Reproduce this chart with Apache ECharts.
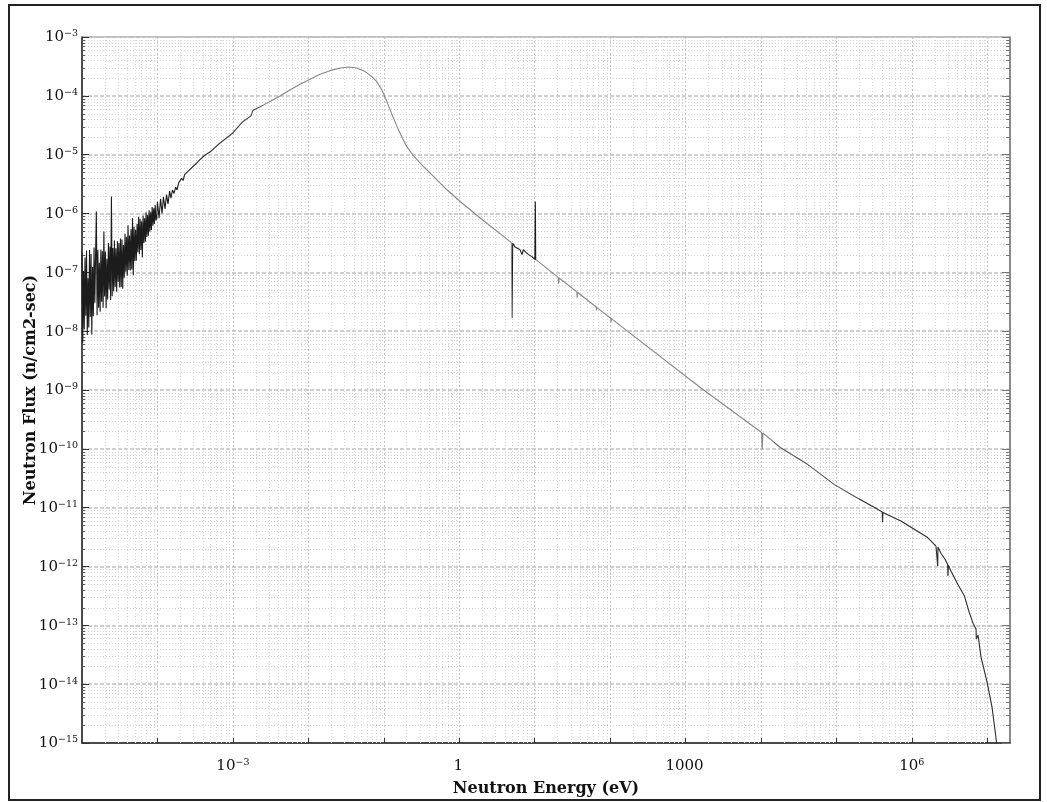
<!DOCTYPE html>
<html>
<head>
<meta charset="utf-8">
<script src="https://cdn.jsdelivr.net/npm/echarts@6/dist/echarts.min.js"></script>
<style>
  html, body { margin: 0; padding: 0; background: #fff; }
  #chart { width: 1047px; height: 802px; }
</style>
</head>
<body>
<div id="chart"></div>
<script>
// Neutron energy (eV) of each sample along the spectrum
const energy = [
  1.000e-5, 1.023e-5, 1.047e-5, 1.072e-5, 1.096e-5, 1.122e-5, 1.148e-5, 1.175e-5, 1.202e-5, 1.230e-5,
  1.259e-5, 1.288e-5, 1.318e-5, 1.349e-5, 1.380e-5, 1.413e-5, 1.445e-5, 1.479e-5, 1.514e-5, 1.549e-5,
  1.585e-5, 1.622e-5, 1.660e-5, 1.698e-5, 1.738e-5, 1.778e-5, 1.820e-5, 1.862e-5, 1.905e-5, 1.950e-5,
  1.995e-5, 2.042e-5, 2.089e-5, 2.138e-5, 2.188e-5, 2.239e-5, 2.291e-5, 2.344e-5, 2.399e-5, 2.455e-5,
  2.512e-5, 2.570e-5, 2.630e-5, 2.692e-5, 2.754e-5, 2.818e-5, 2.884e-5, 2.951e-5, 3.020e-5, 3.090e-5,
  3.162e-5, 3.236e-5, 3.311e-5, 3.388e-5, 3.467e-5, 3.548e-5, 3.631e-5, 3.715e-5, 3.802e-5, 3.890e-5,
  3.981e-5, 4.074e-5, 4.169e-5, 4.266e-5, 4.365e-5, 4.467e-5, 4.571e-5, 4.677e-5, 4.786e-5, 4.898e-5,
  5.012e-5, 5.129e-5, 5.248e-5, 5.370e-5, 5.495e-5, 5.623e-5, 5.754e-5, 5.888e-5, 6.026e-5, 6.166e-5,
  6.310e-5, 6.457e-5, 6.607e-5, 6.761e-5, 6.918e-5, 7.079e-5, 7.244e-5, 7.413e-5, 7.586e-5, 7.762e-5,
  7.943e-5, 8.128e-5, 8.318e-5, 8.511e-5, 8.710e-5, 8.913e-5, 9.120e-5, 9.333e-5, 9.550e-5, 9.772e-5,
  1.00e-4, 1.05e-4, 1.10e-4, 1.15e-4, 1.20e-4, 1.26e-4, 1.32e-4, 1.38e-4, 1.45e-4, 1.51e-4,
  1.58e-4, 1.66e-4, 1.74e-4, 1.82e-4, 1.91e-4, 2.00e-4, 2.09e-4, 2.19e-4, 2.29e-4, 2.40e-4,
  2.51e-4, 2.63e-4, 2.75e-4, 2.88e-4, 3.02e-4, 3.16e-4, 3.39e-4, 3.63e-4, 3.98e-4, 4.47e-4,
  5.01e-4, 6.76e-4, 1.00e-3, 1.35e-3, 1.74e-3, 1.84e-3, 2.29e-3, 3.10e-3, 4.21e-3, 5.71e-3,
  7.76e-3, 1.054e-2, 1.43e-2, 1.94e-2, 2.64e-2, 3.40e-2, 4.39e-2, 5.66e-2, 6.95e-2, 8.09e-2,
  9.44e-2, 0.1076, 0.1216, 0.1374, 0.1567, 0.179, 0.202, 0.248, 0.320, 0.456,
  0.687, 1.03, 1.40, 1.90, 4.91, 5.01, 5.12, 5.30, 5.50, 5.65,
  5.80, 6.00, 6.20, 6.39, 6.60, 6.81, 7.08, 7.30, 7.60, 8.01,
  8.30, 8.77, 9.20, 9.60, 10.07, 10.2, 10.4, 20.5, 20.8, 21.1,
  36.3, 36.6, 36.9, 65.5, 65.9, 66.3, 102, 103, 104, 160,
  1585, 1.02e4, 1.04e4, 1.06e4, 1.83e4, 4.14e4, 9.32e4, 1.55e5, 3.51e5, 4.05e5,
  4.09e5, 4.13e5, 7.16e5, 1.075e6, 1.62e6, 2.09e6, 2.20e6, 2.22e6, 2.43e6, 2.75e6,
  2.98e6, 3.01e6, 3.05e6, 3.31e6, 4.06e6, 4.96e6, 5.77e6, 6.47e6, 7.10e6, 7.15e6,
  7.54e6, 8.26e6, 9.92e6, 1.16e7, 1.33e7, 1.43e7
];

// Neutron flux (n/cm2-sec) at each energy above
const flux = [
  2.19e-7, 6.38e-9, 1.05e-7, 1.08e-8, 1.78e-7, 1.82e-8, 2.34e-7, 8.61e-9, 7.94e-8, 1.16e-8,
  2.40e-7, 1.76e-8, 2.04e-7, 8.81e-9, 1.23e-7, 1.80e-8, 2.63e-7, 3.05e-8, 2.00e-7, 1.08e-6,
  1.86e-8, 2.43e-7, 2.51e-8, 1.46e-7, 2.14e-8, 2.45e-7, 3.16e-8, 2.29e-7, 2.51e-8, 4.95e-7,
  3.89e-8, 2.26e-7, 2.45e-8, 1.70e-7, 3.47e-8, 3.16e-7, 5.13e-8, 2.75e-7, 3.39e-8, 1.95e-6,
  3.98e-8, 2.60e-7, 4.79e-8, 3.47e-7, 5.62e-8, 2.57e-7, 4.68e-8, 3.39e-7, 6.92e-8, 3.16e-7,
  5.50e-8, 3.76e-7, 5.62e-8, 3.63e-7, 5.25e-8, 2.92e-7, 8.13e-8, 4.52e-7, 1.02e-7, 4.03e-7,
  8.71e-8, 6.31e-7, 1.10e-7, 4.22e-7, 1.07e-7, 5.43e-7, 1.12e-7, 8.32e-7, 8.91e-8, 5.96e-7,
  1.55e-7, 5.31e-7, 1.58e-7, 6.61e-7, 2.19e-7, 8.81e-7, 2.04e-7, 8.13e-7, 2.40e-7, 7.41e-7,
  1.78e-7, 9.23e-7, 3.16e-7, 8.32e-7, 3.31e-7, 1.05e-6, 3.98e-7, 9.55e-7, 4.17e-7, 1.14e-6,
  4.90e-7, 1.05e-6, 5.25e-7, 1.29e-6, 6.17e-7, 1.23e-6, 6.61e-7, 1.40e-6, 7.59e-7, 8.32e-7,
  1.58e-6, 8.32e-7, 1.78e-6, 1.00e-6, 1.91e-6, 1.20e-6, 2.09e-6, 1.45e-6, 2.40e-6, 1.82e-6,
  2.51e-6, 2.19e-6, 2.82e-6, 2.51e-6, 3.31e-6, 3.16e-6, 3.98e-6, 3.63e-6, 4.57e-6, 4.27e-6,
  5.13e-6, 4.90e-6, 5.75e-6, 5.62e-6, 6.46e-6, 6.31e-6, 7.41e-6, 8.13e-6, 9.12e-6, 1.02e-5,
  1.12e-5, 1.58e-5, 2.34e-5, 3.63e-5, 4.57e-5, 5.62e-5, 6.49e-5, 7.98e-5, 9.97e-5, 1.26e-4,
  1.575e-4, 1.91e-4, 2.33e-4, 2.68e-4, 2.98e-4, 3.10e-4, 2.98e-4, 2.58e-4, 2.12e-4, 1.74e-4,
  1.26e-4, 8.53e-5, 5.77e-5, 3.90e-5, 2.64e-5, 1.84e-5, 1.37e-5, 9.56e-6, 6.73e-6, 4.26e-6,
  2.53e-6, 1.60e-6, 1.16e-6, 8.38e-7, 3.19e-7, 1.68e-8, 3.12e-7, 3.00e-7, 2.70e-7, 2.84e-7,
  2.75e-7, 2.55e-7, 2.60e-7, 2.43e-7, 2.30e-7, 2.00e-7, 2.43e-7, 2.30e-7, 2.20e-7, 2.08e-7,
  2.00e-7, 1.92e-7, 1.85e-7, 1.72e-7, 1.66e-7, 1.60e-6, 1.64e-7, 8.20e-8, 6.40e-8, 8.00e-8,
  4.65e-8, 3.72e-8, 4.58e-8, 2.57e-8, 2.24e-8, 2.54e-8, 1.66e-8, 1.40e-8, 1.63e-8, 1.06e-8,
  1.09e-9, 1.90e-10, 9.80e-11, 1.86e-10, 1.04e-10, 5.45e-11, 2.49e-11, 1.69e-11, 9.38e-12, 8.40e-12,
  5.64e-12, 8.30e-12, 5.94e-12, 4.30e-12, 3.10e-12, 2.21e-12, 1.02e-12, 2.15e-12, 1.68e-12, 1.33e-12,
  1.09e-12, 6.92e-13, 1.05e-12, 8.32e-13, 5.00e-13, 3.17e-13, 1.66e-13, 1.09e-13, 8.61e-14, 5.83e-14,
  6.82e-14, 2.88e-14, 1.09e-14, 3.94e-15, 1.00e-15, 4.40e-16
];

// Axis ranges
const xMin = 1e-5, xMax = 2e7;
const yMin = 1e-15, yMax = 1e-3;

// Energy decades that carry a label, and their label text
const xLabelExp = [-3, 0, 3, 6];
const xLabelText = ['{b|10}{s|\u22123}', '{b|1}{s|\u2009}', '{b|1000}{s|\u2009}', '{b|10}{s|6}'];

// Line shade along the energy range (dense structure reads darker)
const lineShades = [
  { lt: 5e-4, color: '#1c1c1c' },
  { gte: 5e-4, lt: 2.5e-3, color: '#404040' },
  { gte: 2.5e-3, lt: 4.95, color: '#858585' },
  { gte: 4.95, lte: 10.3, color: '#1a1a1a' },
  { gt: 10.3, lt: 1.5e4, color: '#858585' },
  { gte: 1.5e4, lt: 2e5, color: '#555555' },
  { gte: 2e5, color: '#2a2a2a' }
];

const SERIF = 'DejaVu Serif';
const GRID = { left: 82, top: 37, width: 928, height: 707 };

// Minor (2..9) positions inside each decade
const minorMult = [2, 3, 4, 5, 6, 7, 8, 9];
const xMinor = [];
for (let e = -5; e <= 7; e++) {
  for (const m of minorMult) {
    const v = m * Math.pow(10, e);
    if (v < xMax) xMinor.push([v, yMin]);
  }
}
const yMinor = [];
for (let e = -15; e <= -4; e++) {
  for (const m of minorMult) yMinor.push([xMin, m * Math.pow(10, e)]);
}

const spectrum = energy.map((e, i) => [e, flux[i]]);

function crisp(v) { return Math.round(v) + 0.5; }

function renderXMinor(params, api) {
  const cs = params.coordSys;
  const p = api.coord([api.value(0), api.value(1)]);
  const x = crisp(p[0]);
  return {
    type: 'line',
    shape: { x1: x, y1: cs.y, x2: x, y2: cs.y + cs.height },
    style: { stroke: '#d8d8d8', lineWidth: 1, lineDash: [1, 2] },
    silent: true
  };
}

function renderYMinor(params, api) {
  const cs = params.coordSys;
  const p = api.coord([api.value(0), api.value(1)]);
  const y = crisp(p[1]);
  return {
    type: 'group',
    silent: true,
    children: [
      { type: 'line', shape: { x1: cs.x, y1: y, x2: cs.x + cs.width, y2: y },
        style: { stroke: '#d2d2d2', lineWidth: 1, lineDash: [1, 2] } },
      { type: 'line', shape: { x1: cs.x, y1: y, x2: cs.x + 3, y2: y },
        style: { stroke: '#555', lineWidth: 1 } },
      { type: 'line', shape: { x1: cs.x + cs.width - 4, y1: y, x2: cs.x + cs.width, y2: y },
        style: { stroke: '#777', lineWidth: 1 } }
    ]
  };
}

const richLabel = {
  b: { fontFamily: SERIF, fontSize: 15, color: '#111', lineHeight: 16, verticalAlign: 'bottom' },
  s: { fontFamily: SERIF, fontSize: 9.5, color: '#111', lineHeight: 10, verticalAlign: 'top', padding: [0, 0, 11, 0] }
};

function supLabel(exp) {
  return '{b|10}{s|' + (exp < 0 ? '\u2212' + (-exp) : exp) + '}';
}

const chart = echarts.init(document.getElementById('chart'), null, { renderer: 'canvas' });

chart.setOption({
  animation: false,
  backgroundColor: '#fff',
  graphic: [{
    type: 'rect', silent: true, z: -10,
    shape: { x: 9, y: 5, width: 1031, height: 795 },
    style: { fill: 'none', stroke: '#222', lineWidth: 2 }
  }],
  grid: Object.assign({ show: true, borderColor: '#8a8a8a', borderWidth: 1, backgroundColor: '#fff' }, GRID),
  visualMap: {
    type: 'piecewise', show: false, dimension: 0, seriesIndex: 2,
    pieces: lineShades
  },
  xAxis: [{
    type: 'log', logBase: 10, min: xMin, max: xMax, interval: 1,
    name: 'Neutron Energy (eV)', nameLocation: 'middle', nameGap: 38, nameMoveOverlap: false,
    nameTextStyle: { fontFamily: SERIF, fontSize: 16, fontWeight: 'bold', color: '#111' },
    axisLine: { show: true, onZero: false, lineStyle: { color: '#222', width: 1.5 } },
    axisTick: { show: true, inside: true, length: 5, lineStyle: { color: '#333' } },
    axisLabel: {
      interval: 0, margin: 15, showMinLabel: false, showMaxLabel: false, hideOverlap: false,
      formatter: function (v) {
        const lg = Math.log10(v);
        const e = Math.round(lg);
        const i = xLabelExp.indexOf(e);
        if (i < 0 || Math.abs(lg - e) > 1e-6) return '';
        return xLabelText[i];
      },
      rich: richLabel
    },
    splitLine: { show: true, lineStyle: { color: '#c4c4c4', width: 1, type: [2, 2] } }
  }],
  yAxis: [{
    type: 'log', logBase: 10, min: yMin, max: yMax, interval: 1,
    name: 'Neutron Flux (n/cm2-sec)', nameLocation: 'middle', nameGap: 43, nameRotate: 90,
    nameMoveOverlap: false,
    nameTextStyle: { fontFamily: SERIF, fontSize: 16, fontWeight: 'bold', color: '#111' },
    axisLine: { show: true, onZero: false, lineStyle: { color: '#222', width: 1.5 } },
    axisTick: { show: true, inside: true, length: 7, lineStyle: { color: '#333' } },
    axisLabel: {
      interval: 0, margin: 4, hideOverlap: false,
      formatter: function (v) { return supLabel(Math.round(Math.log10(v))); },
      rich: richLabel
    },
    splitLine: { show: true, lineStyle: { color: '#c0c0c0', width: 1.5, type: [4, 2] } }
  }, {
    type: 'log', logBase: 10, min: yMin, max: yMax, interval: 1, position: 'right',
    axisLine: { show: true, onZero: false, lineStyle: { color: '#777', width: 1.5 } },
    axisTick: { show: true, inside: true, length: 8, lineStyle: { color: '#777' } },
    axisLabel: { show: false },
    splitLine: { show: false }
  }],
  series: [{
    type: 'custom', name: 'xMinorGrid', renderItem: renderXMinor, data: xMinor,
    silent: true, z: 1, clip: true
  }, {
    type: 'custom', name: 'yMinorGrid', renderItem: renderYMinor, data: yMinor,
    silent: true, z: 1, clip: false
  }, {
    type: 'line', name: 'Neutron Flux', data: spectrum,
    showSymbol: false, symbol: 'none', sampling: null, clip: true, z: 5,
    lineStyle: { width: 1.1 }
  }]
});
</script>
</body>
</html>
